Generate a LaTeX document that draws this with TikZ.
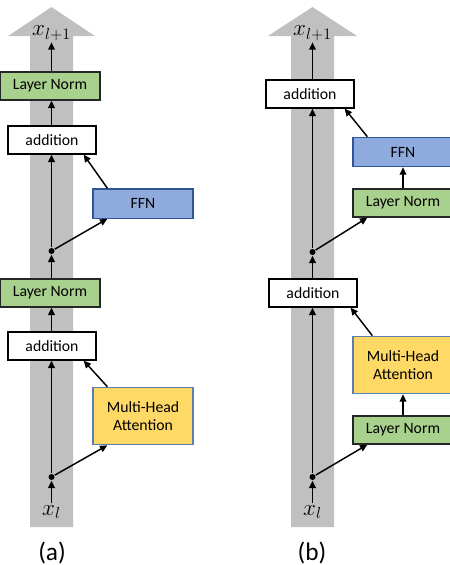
\documentclass[tikz,border=0pt]{standalone}
\usepackage{fontspec}
\setmainfont{Carlito}
\usetikzlibrary{%
  arrows.meta,%
  shapes,%
  positioning,%
  calc%
}
\definecolor{normgreen}{HTML}{A9D18E}
\definecolor{ffnblue}{HTML}{8FAADC}
\definecolor{mhayellow}{HTML}{FFD966}
\definecolor{boxedge}{HTML}{2F5597}
\definecolor{mhaedge}{HTML}{5A7DB5}
\definecolor{shaftgray}{HTML}{C0C0C0}

\begin{document}
\begin{tikzpicture}
[x=0.75pt, y=-0.75pt, line width=1.1pt, >={Triangle[length=5.5pt,width=5pt]},
box/.style={rectangle, draw, line width=1pt, inner sep=0pt, minimum height=21pt, font=\fontsize{11.8}{14}\selectfont},
norm/.style={box, fill=normgreen, draw=black!85, minimum width=75pt},
add/.style={box, fill=white, minimum width=66pt},
ffn/.style={box, fill=ffnblue, draw=boxedge, minimum width=75pt, minimum height=22pt},
mha/.style={box, fill=mhayellow, draw=mhaedge, minimum width=75pt, minimum height=43pt, align=center},
dot/.style={circle, fill=black, inner sep=0pt, minimum size=4.5pt},
var/.style={inner sep=1pt, font=\fontsize{18}{21}\selectfont},
caption/.style={font=\fontsize{19}{22}\selectfont}]

\useasboundingbox (0,0) rectangle (450,565);

% residual streams
\fill[shaftgray] (30,527) -- (30,36) -- (8,36) -- (51.5,7) -- (95,36) -- (73,36) -- (73,527) -- cycle;
\fill[shaftgray] (291,527) -- (291,36) -- (268,36) -- (312.5,7) -- (357,36) -- (334,36) -- (334,527) -- cycle;

% (a)
\node[var] (xoA) at (51.5,33) {$x_{l+1}$};
\node[norm] (lnA2) at (50,86) {Layer Norm};
\node[add] (addA2) at (52,140) {addition};
\node[ffn] (ffnA) at (143,203.5) {FFN};
\node[dot] (dotA2) at (51.5,251) {};
\node[norm] (lnA1) at (50,293) {Layer Norm};
\node[add] (addA1) at (52,346) {addition};
\node[mha] (mhaA) at (143,416) {Multi-Head\\Attention};
\node[dot] (dotA1) at (51.5,477) {};
\node[var] (xA) at (51.5,512) {$x_l$};
\node[caption] (capA) at (52,553) {(a)};

\draw[->] (xA) -- (dotA1);
\draw[->] (dotA1) -- (dotA1 |- addA1.south);
\draw[->] (dotA1) -- ([xshift=11.25pt]mhaA.south west);
\draw[->] ([xshift=11.25pt]mhaA.north west) -- ([xshift=-9.75pt]addA1.south east);
\draw[->] (addA1.north -| dotA1) -- (dotA1 |- lnA1.south);
\draw[->] (dotA1 |- lnA1.north) -- (dotA2);
\draw[->] (dotA2) -- (dotA2 |- addA2.south);
\draw[->] (dotA2) -- ([xshift=11.25pt]ffnA.south west);
\draw[->] ([xshift=11.25pt]ffnA.north west) -- ([xshift=-9.75pt]addA2.south east);
\draw[->] (addA2.north -| dotA2) -- (dotA2 |- lnA2.south);
\draw[->] (dotA2 |- lnA2.north) -- (xoA);

% (b)
\node[var] (xoB) at (312.5,33) {$x_{l+1}$};
\node[add] (addB2) at (310,94) {addition};
\node[ffn] (ffnB) at (403,152) {FFN};
\node[norm] (lnB2) at (403,203) {Layer Norm};
\node[dot] (dotB2) at (312.5,252) {};
\node[add] (addB1) at (313,293) {addition};
\node[mha] (mhaB) at (403,365) {Multi-Head\\Attention};
\node[norm] (lnB1) at (403,430) {Layer Norm};
\node[dot] (dotB1) at (312.5,477) {};
\node[var] (xB) at (312.5,512) {$x_l$};
\node[caption] (capB) at (312,553) {(b)};

\draw[->] (xB) -- (dotB1);
\draw[->] (dotB1) -- (dotB1 |- addB1.south);
\draw[->] (dotB1) -- ([xshift=11.25pt]lnB1.south west);
\draw[->] (lnB1) -- (mhaB);
\draw[->] ([xshift=15pt]mhaB.north west) -- ([xshift=-5.25pt]addB1.south east);
\draw[->] (addB1.north -| dotB1) -- (dotB2);
\draw[->] (dotB2) -- (dotB2 |- addB2.south);
\draw[->] (dotB2) -- ([xshift=11.25pt]lnB2.south west);
\draw[->] (lnB2) -- (ffnB);
\draw[->] ([xshift=11.25pt]ffnB.north west) -- ([xshift=-7.5pt]addB2.south east);
\draw[->] (addB2.north -| dotB2) -- (xoB);

\end{tikzpicture}
\end{document}
